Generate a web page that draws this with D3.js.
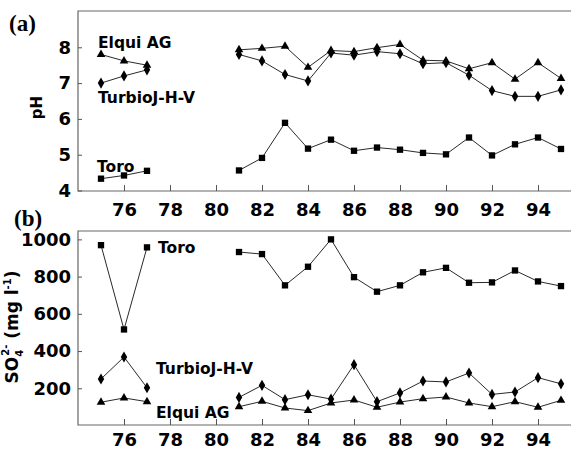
<!DOCTYPE html>
<html>
<head>
<meta charset="utf-8">
<script src="https://cdn.jsdelivr.net/npm/d3@7"></script>
<style>
  body { margin: 0; background: #fff; }
  text { font-family: "DejaVu Sans", sans-serif; font-weight: bold; fill: #000; }
  .domain { display: none; }
  .tick line { stroke: #555; }
</style>
</head>
<body>
<div class="container"></div>
<script>
// years sampled (78-80 missing)
const years = [75, 76, 77, 78, 79, 80, 81, 82, 83, 84, 85, 86, 87, 88, 89, 90, 91, 92, 93, 94, 95];
const xTicks = [76, 78, 80, 82, 84, 86, 88, 90, 92, 94];

// (a) pH
const phElqui  = [7.80, 7.62, 7.50, null, null, null, 7.93, 7.97, 8.03, 7.44, 7.91, 7.88, 7.99, 8.08, 7.64, 7.62, 7.40, 7.57, 7.11, 7.57, 7.13];
const phTurbio = [7.00, 7.20, 7.37, null, null, null, 7.80, 7.62, 7.24, 7.06, 7.84, 7.78, 7.88, 7.82, 7.54, 7.57, 7.22, 6.79, 6.63, 6.63, 6.81];
const phToro   = [4.33, 4.42, 4.55, null, null, null, 4.56, 4.91, 5.89, 5.17, 5.42, 5.11, 5.20, 5.14, 5.05, 5.01, 5.48, 4.98, 5.29, 5.48, 5.16];
const phTicks = [4, 5, 6, 7, 8];

// (b) sulphate, mg/l
const so4Toro   = [969, 516, 957, null, null, null, 932, 921, 753, 853, 1000, 797, 719, 753, 823, 847, 767, 769, 833, 774, 749];
const so4Turbio = [250, 368, 203, null, null, null, 151, 216, 139, 165, 142, 327, 128, 175, 239, 234, 282, 167, 180, 257, 224];
const so4Elqui  = [125, 148, 128, null, null, null, 101, 130,  94,  80, 121, 137,  98, 126, 144, 153, 121, 101, 128,  98, 135];
const so4Ticks = [200, 400, 600, 800, 1000];

const svg = d3.select(".container").append("svg")
    .attr("width", 571)
    .attr("height", 450);

const left = 78, right = 572.5;

const x = d3.scaleLinear().domain([74, 95.5]).range([left, right]);

const yA = d3.scaleLinear().domain([4, 9]).range([190.5, 11.5]);
const yB = d3.scaleLinear().domain([0, 1045]).range([425.5, 231]);

const shapes = {
  square: d3.symbol().type(d3.symbolSquare).size(40)(),
  diamond: d3.symbol().type(d3.symbolDiamond).size(36)(),
  triangle: d3.symbol().type(d3.symbolTriangle).size(32)()
};

function panel(y, top, bottom, ticks, series, xPad) {
  const g = svg.append("g");

  // frame: top, left and bottom lines (open on the right)
  g.append("path")
    .attr("d", `M571,${top}H${left}V${bottom}H571`)
    .attr("fill", "none")
    .attr("stroke", "#666")
    .attr("stroke-width", 1.2);

  g.append("g")
    .attr("transform", `translate(0, ${bottom})`)
    .call(d3.axisBottom(x).tickValues(xTicks).tickFormat(d3.format("d"))
      .tickSizeInner(-6).tickSizeOuter(0).tickPadding(xPad))
    .call(a => a.selectAll("text").style("font-size", "18px").style("font-family", "DejaVu Sans, sans-serif"));

  g.append("g")
    .attr("transform", `translate(${left}, 0)`)
    .call(d3.axisLeft(y).tickValues(ticks).tickFormat(d3.format("d"))
      .tickSizeInner(-4).tickSizeOuter(0).tickPadding(7))
    .call(a => a.selectAll("text").style("font-size", "18px").style("font-family", "DejaVu Sans, sans-serif"));

  series.forEach(s => {
    const pts = years.map((yr, i) => ({yr: yr, v: s.values[i]}));
    const line = d3.line()
      .defined(d => d.v != null)
      .x(d => x(d.yr))
      .y(d => y(d.v));
    g.append("path")
      .attr("d", line(pts))
      .attr("fill", "none")
      .attr("stroke", "#111")
      .attr("stroke-width", 0.9);
    g.selectAll(null)
      .data(pts.filter(d => d.v != null))
      .enter()
      .append("path")
      .attr("d", shapes[s.shape])
      .attr("transform", d => `translate(${x(d.yr)}, ${y(d.v)})`)
      .attr("fill", "#000");
  });
  return g;
}

panel(yA, 11, 191, phTicks, [
  {values: phElqui, shape: "triangle"},
  {values: phTurbio, shape: "diamond"},
  {values: phToro, shape: "square"}
], 12.5);

panel(yB, 231, 425, so4Ticks, [
  {values: so4Toro, shape: "square"},
  {values: so4Turbio, shape: "diamond"},
  {values: so4Elqui, shape: "triangle"}
], 8);

// panel letters
svg.append("text").attr("x", 9).attr("y", 31)
  .style("font-family", "Liberation Serif, Times New Roman, serif")
  .style("font-size", "23px").text("(a)");
svg.append("text").attr("x", 14).attr("y", 226)
  .style("font-family", "Liberation Serif, Times New Roman, serif")
  .style("font-size", "23px").text("(b)");

// series labels
const labels = [
  {t: "Elqui AG", x: 98, y: 48},
  {t: "TurbioJ-H-V", x: 98, y: 102.5},
  {t: "Toro", x: 97, y: 171.5},
  {t: "Toro", x: 158, y: 252.5},
  {t: "TurbioJ-H-V", x: 156, y: 373.5},
  {t: "Elqui AG", x: 156, y: 417.5}
];
svg.selectAll(".lab")
  .data(labels)
  .enter()
  .append("text")
  .attr("class", "lab")
  .attr("x", d => d.x)
  .attr("y", d => d.y)
  .style("font-size", "15.5px")
  .text(d => d.t);

// axis titles
svg.append("text")
  .attr("transform", "translate(42, 107.5) rotate(-90)")
  .attr("text-anchor", "middle")
  .style("font-size", "15px")
  .text("pH");

const so4 = svg.append("text")
  .attr("transform", "translate(18, 327) rotate(-90)")
  .attr("text-anchor", "middle")
  .style("font-size", "17px");
so4.append("tspan").text("SO");
so4.append("tspan").attr("dy", 5).style("font-size", "10px").text("4");
so4.append("tspan").attr("dx", -6).attr("dy", -14).style("font-size", "10px").text("2-");
so4.append("tspan").attr("dy", 9).text("  (mg l");
so4.append("tspan").attr("dy", -7).style("font-size", "10px").text("-1");
so4.append("tspan").attr("dy", 7).text(")");
</script>
</body>
</html>
